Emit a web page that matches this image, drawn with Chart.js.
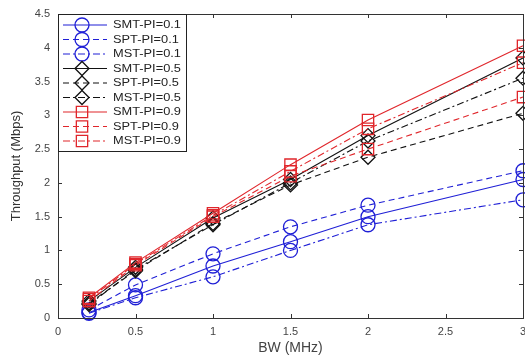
<!DOCTYPE html>
<html>
<head>
<meta charset="utf-8">
<script src="https://cdn.jsdelivr.net/npm/chart.js@4/dist/chart.umd.min.js"></script>
<style>
  html, body { margin: 0; padding: 0; background: #fff; }
  #wrap { width: 525px; height: 360px; }
</style>
</head>
<body>
<div id="wrap"><canvas id="tp" width="525" height="360"></canvas></div>
<script>
// ---------- DATA ----------
const bw = [0.2, 0.5, 1, 1.5, 2, 3];

const smt01 = [0.08, 0.33, 0.77, 1.13, 1.50, 2.05];
const spt01 = [0.12, 0.49, 0.95, 1.35, 1.67, 2.18];
const mst01 = [0.07, 0.30, 0.61, 1.00, 1.38, 1.75];

const smt05 = [0.25, 0.75, 1.48, 2.05, 2.70, 3.85];
const spt05 = [0.22, 0.70, 1.40, 1.97, 2.38, 3.03];
const mst05 = [0.20, 0.72, 1.38, 2.00, 2.62, 3.55];

const smt09 = [0.30, 0.82, 1.55, 2.27, 2.93, 4.03];
const spt09 = [0.25, 0.78, 1.50, 2.10, 2.50, 3.27];
const mst09 = [0.28, 0.80, 1.52, 2.17, 2.80, 3.78];

const xTicks = [0, 0.5, 1, 1.5, 2, 2.5, 3];
const yTicks = [0, 0.5, 1, 1.5, 2, 2.5, 3, 3.5, 4, 4.5];

// ---------- STYLE ----------
const BLUE = '#1f1fd6', BLACK = '#111', RED = '#e0262b';
const SOLID = [], DASH = [6, 4], DASHDOT = [7, 3, 2, 3];
const FONT = 'Liberation Sans, Arial, sans-serif';

let nSeries = 0;
function series(label, vals, color, dash, shape, r) {
  nSeries++;
  return {
    label,
    data: bw.map((x, i) => ({ x, y: vals[i] })),
    borderColor: color,
    borderWidth: 1.1,
    borderDash: dash,
    pointStyle: shape,
    pointRadius: r,
    pointBorderColor: color,
    pointBackgroundColor: 'rgba(0,0,0,0)',
    pointBorderWidth: 1.3,
    tension: 0,
    fill: false,
    clip: false,
    order: 20 - nSeries   // later series end up on top
  };
}

const datasets = [
  series('SMT-PI=0.1', smt01, BLUE, SOLID, 'circle', 7),
  series('SPT-PI=0.1', spt01, BLUE, DASH, 'circle', 7),
  series('MST-PI=0.1', mst01, BLUE, DASHDOT, 'circle', 7),
  series('SMT-PI=0.5', smt05, BLACK, SOLID, 'rectRot', 7),
  series('SPT-PI=0.5', spt05, BLACK, DASH, 'rectRot', 7),
  series('MST-PI=0.5', mst05, BLACK, DASHDOT, 'rectRot', 7),
  series('SMT-PI=0.9', smt09, RED, SOLID, 'rect', 8),
  series('SPT-PI=0.9', spt09, RED, DASH, 'rect', 8),
  series('MST-PI=0.9', mst09, RED, DASHDOT, 'rect', 8)
];

// axes box with inward ticks, matlab style
const boxPlugin = {
  id: 'box',
  afterDraw(chart) {
    const { ctx, chartArea: a, scales } = chart;
    ctx.save();
    ctx.strokeStyle = '#333';
    ctx.lineWidth = 1;
    ctx.setLineDash([]);
    ctx.strokeRect(a.left + 0.5, a.top + 0.5, a.right - a.left, a.bottom - a.top);
    ctx.beginPath();
    xTicks.forEach(v => {
      const px = Math.round(scales.x.getPixelForValue(v)) + 0.5;
      ctx.moveTo(px, a.bottom); ctx.lineTo(px, a.bottom - 4);
      ctx.moveTo(px, a.top); ctx.lineTo(px, a.top + 4);
    });
    yTicks.forEach(v => {
      const py = Math.round(scales.y.getPixelForValue(v)) + 0.5;
      ctx.moveTo(a.left, py); ctx.lineTo(a.left + 4, py);
      ctx.moveTo(a.right, py); ctx.lineTo(a.right - 4, py);
    });
    ctx.stroke();
    ctx.restore();
  }
};

// legend box in the upper-left corner
const legendPlugin = {
  id: 'boxLegend',
  afterDraw(chart) {
    const { ctx, chartArea: a } = chart;
    const x0 = a.left, y0 = a.top, w = 128, rowH = 14.5;
    const h = 137;
    ctx.save();
    ctx.fillStyle = '#fff';
    ctx.fillRect(x0, y0, w, h);
    ctx.strokeStyle = '#222';
    ctx.lineWidth = 1;
    ctx.strokeRect(x0 + 0.5, y0 + 0.5, w, h);
    ctx.textBaseline = 'middle';
    chart.data.datasets.forEach((ds, i) => {
      const cy = y0 + 11 + i * rowH;
      ctx.strokeStyle = ds.borderColor;
      ctx.lineWidth = ds.borderWidth;
      ctx.setLineDash(ds.borderDash);
      ctx.beginPath();
      ctx.moveTo(x0 + 5, cy); ctx.lineTo(x0 + 49, cy);
      ctx.stroke();
      ctx.setLineDash([]);
      ctx.lineWidth = ds.pointBorderWidth;
      ctx.fillStyle = 'rgba(0,0,0,0)';
      Chart.helpers.drawPoint(ctx, {
        pointStyle: ds.pointStyle, radius: ds.pointRadius, rotation: 0, borderWidth: ds.pointBorderWidth
      }, x0 + 24, cy);
      // labels are set a little wide
      ctx.save();
      ctx.translate(x0 + 55, cy + 0.5);
      ctx.scale(1.28, 1);
      ctx.font = '10px ' + FONT;
      ctx.fillStyle = '#222';
      ctx.fillText(ds.label, 0, 0);
      ctx.restore();
    });
    ctx.restore();
  }
};

const fmt = v => String(v);

const chart = new Chart(document.getElementById('tp'), {
  type: 'line',
  data: { datasets },
  options: {
    responsive: false,
    animation: false,
    layout: { autoPadding: false, padding: { top: 14, right: 2, left: 0, bottom: 0 } },
    plugins: { legend: { display: false }, tooltip: { enabled: false } },
    scales: {
      x: {
        type: 'linear', min: 0, max: 3,
        afterFit: s => { s.height = 42; s.paddingLeft = 0; s.paddingRight = 0; },
        afterBuildTicks: s => { s.ticks = xTicks.map(v => ({ value: v })); },
        grid: { display: false, drawTicks: false },
        border: { display: false },
        ticks: { color: '#444', font: { family: FONT, size: 11 }, padding: 7, maxRotation: 0, callback: fmt },
        title: { display: true, text: 'BW (MHz)', color: '#444', font: { family: FONT, size: 14 }, padding: { top: 0, bottom: 3 } }
      },
      y: {
        type: 'linear', min: 0, max: 4.5,
        afterFit: s => { s.width = 58; s.paddingTop = 0; s.paddingBottom = 0; },
        afterBuildTicks: s => { s.ticks = yTicks.map(v => ({ value: v })); },
        grid: { display: false, drawTicks: false },
        border: { display: false },
        ticks: { color: '#444', font: { family: FONT, size: 11 }, padding: 8, callback: fmt },
        title: { display: true, text: 'Throughput (Mbps)', color: '#333', font: { family: FONT, size: 13 }, padding: { top: 9, bottom: 0 } }
      }
    }
  },
  plugins: [boxPlugin, legendPlugin]
});
</script>
</body>
</html>
